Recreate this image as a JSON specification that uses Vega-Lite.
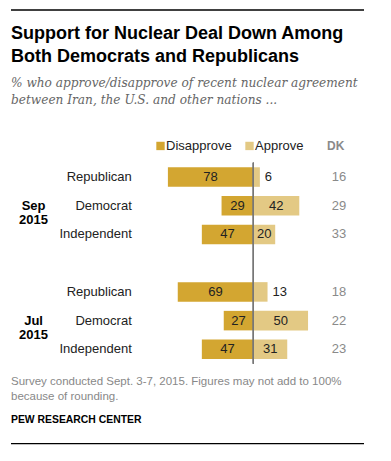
{
  "$schema": "https://vega.github.io/schema/vega-lite/v6.json",
  "background": "white",
  "padding": {"left": 11, "top": 9, "right": 20, "bottom": 10},
  "config": {"font": "Liberation Sans", "view": {"stroke": null}},
  "spacing": 11,
  "resolve": {"scale": {"color": "independent"}, "legend": {"color": "independent"}},
  "vconcat": [
    {
      "bounds": "flush",
      "spacing": 151.7,
      "resolve": {"scale": {"color": "independent"}, "legend": {"color": "independent"}},
      "vconcat": [
        {
          "width": 353,
          "height": 1.3,
          "data": {"values": [{"edge": "top"}]},
          "title": {
            "orient": "bottom",
            "text": ["Support for Nuclear Deal Down Among", "Both Democrats and Republicans"],
            "subtitle": ["% who approve/disapprove of recent nuclear agreement", "between Iran, the U.S. and other nations ..."],
            "anchor": "start",
            "font": "Liberation Sans",
            "fontSize": 18,
            "fontWeight": "bold",
            "color": "#000",
            "lineHeight": 22.5,
            "subtitleFont": "DejaVu Serif",
            "subtitleFontStyle": "italic",
            "subtitleFontSize": 12.15,
            "subtitleColor": "#666",
            "subtitleLineHeight": 17.5,
            "subtitlePadding": 11,
            "offset": 15
          },
          "mark": {"type": "rect", "color": "#000", "opacity": 0},
          "encoding": {
            "x": {"datum": 0, "type": "quantitative", "scale": {"domain": [0, 1], "nice": false}, "axis": null},
            "x2": {"datum": 1},
            "y": {"datum": 0, "type": "quantitative", "scale": {"domain": [0, 1], "nice": false}, "axis": null},
            "y2": {"datum": 1}
          }
        },
        {
          "width": 353,
          "height": 201,
          "data": {
            "values": [
              {"period": "Sep 2015", "party": "Republican", "disapprove": 78, "approve": 6, "dk": 16},
              {"period": "Sep 2015", "party": "Democrat", "disapprove": 29, "approve": 42, "dk": 29},
              {"period": "Sep 2015", "party": "Independent", "disapprove": 47, "approve": 20, "dk": 33},
              {"period": "Jul 2015", "party": "Republican", "disapprove": 69, "approve": 13, "dk": 18},
              {"period": "Jul 2015", "party": "Democrat", "disapprove": 27, "approve": 50, "dk": 22},
              {"period": "Jul 2015", "party": "Independent", "disapprove": 47, "approve": 31, "dk": 23}
            ]
          },
          "resolve": {"scale": {"x": "independent", "y": "independent"}},
          "layer": [
            {
              "encoding": {
                "y": {"field": "period", "type": "nominal", "scale": {"domain": ["Sep 2015", "Jul 2015"], "paddingInner": 0.25, "paddingOuter": 0}, "axis": null},
                "yOffset": {"field": "party", "type": "nominal", "scale": {"domain": ["Republican", "Democrat", "Independent"], "paddingInner": 0.32, "paddingOuter": 0.16}}
              },
              "resolve": {"scale": {"x": "independent"}},
              "layer": [
                {
                  "mark": {"type": "bar"},
                  "encoding": {
                    "x": {"field": "disapprove", "type": "quantitative", "scale": {"domain": [-101.1, 221.3], "reverse": true, "nice": false, "zero": false}, "axis": null},
                    "x2": {"datum": 0},
                    "color": {
                      "datum": "Disapprove",
                      "type": "nominal",
                      "scale": {"domain": ["Disapprove", "Approve", "DK"], "range": ["#d3a631", "#e3c984", "transparent"]},
                      "legend": {
                        "orient": "none",
                        "legendX": 143,
                        "legendY": -23.5,
                        "padding": 0,
                        "direction": "horizontal",
                        "title": null,
                        "symbolType": "square",
                        "symbolSize": 70,
                        "symbolStrokeWidth": 0,
                        "labelFont": "Liberation Sans",
                        "labelFontSize": 13,
                        "labelOffset": -1,
                        "columnPadding": 11,
                        "labelColor": "#222",
                        "encode": {
                          "labels": {
                            "update": {
                              "fontWeight": {"signal": "datum.label === 'DK' ? 'bold' : 'normal'"},
                              "fill": {"signal": "datum.label === 'DK' ? '#8a8a8a' : '#222'"},
                              "fontSize": {"signal": "datum.label === 'DK' ? 12 : 13"}
                            }
                          }
                        }
                      }
                    }
                  }
                },
                {
                  "mark": {"type": "bar"},
                  "encoding": {
                    "x": {"field": "approve", "type": "quantitative", "scale": {"domain": [-221.3, 101.1], "nice": false, "zero": false}, "axis": null},
                    "x2": {"datum": 0},
                    "color": {"datum": "Approve", "type": "nominal"}
                  }
                },
                {
                  "mark": {"type": "text", "fontSize": 13, "color": "#222", "align": "center", "baseline": "middle"},
                  "encoding": {
                    "x": {"field": "disapprove", "type": "quantitative", "scale": {"domain": [-202.2, 442.6], "reverse": true, "nice": false, "zero": false}, "axis": null},
                    "text": {"field": "disapprove"}
                  }
                },
                {
                  "transform": [{"filter": "datum.approve >= 15"}],
                  "mark": {"type": "text", "fontSize": 13, "color": "#222", "align": "center", "baseline": "middle"},
                  "encoding": {
                    "x": {"field": "approve", "type": "quantitative", "scale": {"domain": [-442.6, 202.2], "nice": false, "zero": false}, "axis": null},
                    "text": {"field": "approve"}
                  }
                },
                {
                  "transform": [{"filter": "datum.approve < 15"}],
                  "mark": {"type": "text", "fontSize": 13, "color": "#222", "align": "left", "baseline": "middle", "dx": 5},
                  "encoding": {
                    "x": {"field": "approve", "type": "quantitative", "scale": {"domain": [-221.3, 101.1], "nice": false, "zero": false}, "axis": null},
                    "text": {"field": "approve"}
                  }
                },
                {
                  "mark": {"type": "rule", "color": "#777", "strokeWidth": 1},
                  "encoding": {
                    "x": {"datum": 0, "type": "quantitative", "scale": {"domain": [-221.3, 101.1], "nice": false, "zero": false}, "axis": null},
                    "y": null,
                    "yOffset": null
                  }
                },
                {
                  "mark": {"type": "text", "fontSize": 13, "color": "#222", "align": "right", "baseline": "middle"},
                  "encoding": {
                    "x": {"datum": -111, "type": "quantitative", "scale": {"domain": [-221.3, 101.1], "nice": false, "zero": false}, "axis": null},
                    "text": {"field": "party"}
                  }
                },
                {
                  "transform": [{"filter": "datum.party === 'Democrat'"}],
                  "mark": {"type": "text", "fontSize": 13, "fontWeight": "bold", "color": "#000", "align": "center", "baseline": "middle", "lineBreak": " ", "lineHeight": 14.5},
                  "encoding": {
                    "x": {"datum": -200.7, "type": "quantitative", "scale": {"domain": [-221.3, 101.1], "nice": false, "zero": false}, "axis": null},
                    "text": {"field": "period"}
                  }
                },
                {
                  "mark": {"type": "text", "fontSize": 13, "color": "#8a8a8a", "align": "center", "baseline": "middle"},
                  "encoding": {
                    "x": {"datum": 78.3, "type": "quantitative", "scale": {"domain": [-221.3, 101.1], "nice": false, "zero": false}, "axis": null},
                    "text": {"field": "dk"}
                  }
                }
              ]
            },
            {
              "data": {"values": [{"edge": "top"}]},
              "mark": {"type": "rect", "color": "#000"},
              "encoding": {
                "x": {"datum": 0, "type": "quantitative", "scale": {"domain": [0, 1], "nice": false, "zero": false}, "axis": null},
                "x2": {"datum": 1},
                "y": {"datum": 354.35, "type": "quantitative", "scale": {"domain": [0, 201], "nice": false, "zero": false}, "axis": null},
                "y2": {"datum": 353.05}
              }
            }
          ]
        }
      ]
    },
    {
      "width": 353,
      "height": 1.3,
      "data": {"values": [{"edge": "bottom"}]},
      "title": {
        "text": ["Survey conducted Sept. 3-7, 2015. Figures may not add to 100%", "because of rounding."],
        "subtitle": "PEW RESEARCH CENTER",
        "anchor": "start",
        "font": "Liberation Sans",
        "fontSize": 11.5,
        "fontWeight": "normal",
        "color": "#888",
        "lineHeight": 15,
        "subtitleFont": "Liberation Sans",
        "subtitleFontSize": 10.4,
        "subtitleFontWeight": "bold",
        "subtitleColor": "#000",
        "subtitlePadding": 12,
        "offset": 18
      },
      "mark": {"type": "rect", "color": "#000"},
      "encoding": {
        "x": {"datum": 0, "type": "quantitative", "scale": {"domain": [0, 1], "nice": false}, "axis": null},
        "x2": {"datum": 1},
        "y": {"datum": 0, "type": "quantitative", "scale": {"domain": [0, 1], "nice": false}, "axis": null},
        "y2": {"datum": 1}
      }
    }
  ]
}
